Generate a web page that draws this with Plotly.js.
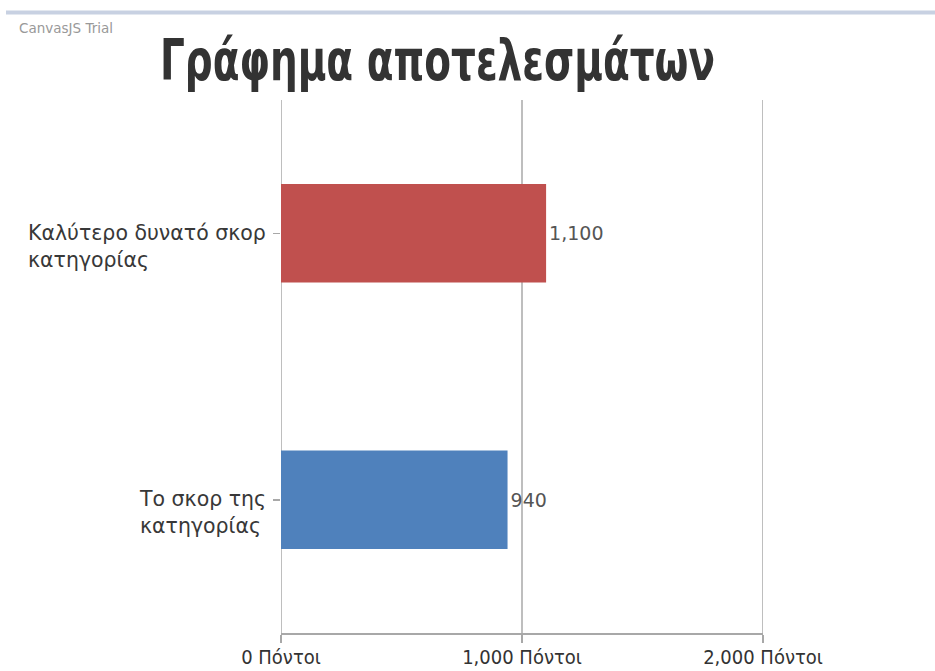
<!DOCTYPE html>
<html>
<head>
<meta charset="utf-8">
<script src="https://cdn.plot.ly/plotly-3.0.1.min.js"></script>
<style>html,body{margin:0;padding:0;background:#fff;}#chart{width:935px;height:671px;}</style>
</head>
<body>
<div id="chart"></div>
<script>
const categories = ["Το σκορ της<br>κατηγορίας", "Καλύτερο δυνατό σκορ<br>κατηγορίας"];
const values = [940, 1100];
const barColors = ["#4F81BC", "#C0504E"];
const valueLabels = ["940", "1,100"];
const xTickVals = [0, 1000, 2000];
const xTickText = ["0 Πόντοι", "1,000 Πόντοι", "2,000 Πόντοι"];
const titleText = "Γράφημα αποτελεσμάτων";

const trace = {
  type: "bar",
  orientation: "h",
  y: categories,
  x: values,
  marker: {color: barColors},
  width: 0.37,
  text: valueLabels,
  textposition: "outside",
  cliponaxis: false,
  textfont: {family: "DejaVu Sans, sans-serif", size: 19, color: "#555"},
  hoverinfo: "none"
};

const gridShapes = xTickVals.map(v => ({
  type: "line", xref: "x", yref: "paper", x0: v, x1: v, y0: 0, y1: 1,
  layer: "below", line: {color: "#a8a8a8", width: 1.5}
}));

const catAnnotations = categories.map(c => ({
  text: c, xref: "paper", yref: "y", x: (268 - 281) / 482, y: c,
  xanchor: "right", yanchor: "middle", align: "left", yshift: -13,
  showarrow: false,
  font: {family: "DejaVu Sans, sans-serif", size: 20.5, color: "#383838"}
}));

const layout = {
  width: 935, height: 671,
  margin: {l: 281, r: 172, t: 100, b: 38},
  paper_bgcolor: "#fff", plot_bgcolor: "#fff",
  showlegend: false,
  title: {
    text: titleText,
    font: {family: "DejaVu Sans Condensed, DejaVu Sans, sans-serif", size: 57, color: "#333", weight: "bold"},
    x: 437.5 / 935, xanchor: "center", xref: "container",
    y: 1 - 60 / 671, yanchor: "middle", yref: "container"
  },
  xaxis: {
    range: [0, 2000],
    tickvals: xTickVals, ticktext: xTickText,
    showgrid: false,
    zeroline: false,
    showline: true, linecolor: "#a8a8a8", linewidth: 2,
    ticks: "outside", ticklen: 8, tickcolor: "#a8a8a8", tickwidth: 1.5,
    ticklabelstandoff: -3,
    tickfont: {family: "DejaVu Sans Condensed, DejaVu Sans, sans-serif", size: 20, color: "#333"},
    fixedrange: true
  },
  yaxis: {
    showgrid: false, zeroline: false, showline: false,
    ticks: "outside", ticklen: 7, tickcolor: "#a8a8a8", tickwidth: 1.5,
    showticklabels: false,
    fixedrange: true
  },
  shapes: [
    {type: "line", xref: "paper", yref: "paper",
     x0: -275 / 482, x1: (935 - 281) / 482, y0: 1 + (100 - 12.5) / 533, y1: 1 + (100 - 12.5) / 533,
     line: {color: "#c8d1e2", width: 4}}
  ].concat(gridShapes),
  annotations: [
    {text: "CanvasJS Trial", xref: "paper", yref: "paper",
     x: (17 - 281) / 482, y: 1 + (100 - 28) / 533, xanchor: "left", yanchor: "middle",
     showarrow: false, font: {family: "DejaVu Sans, sans-serif", size: 13.5, color: "#999"}}
  ].concat(catAnnotations)
};

Plotly.newPlot("chart", [trace], layout, {displayModeBar: false, staticPlot: true}).then(gd => {
  const t = gd.querySelector(".gtitle");
  if (t) {
    t.setAttribute("textLength", "555");
    t.setAttribute("lengthAdjust", "spacingAndGlyphs");
  }
});
</script>
</body>
</html>
